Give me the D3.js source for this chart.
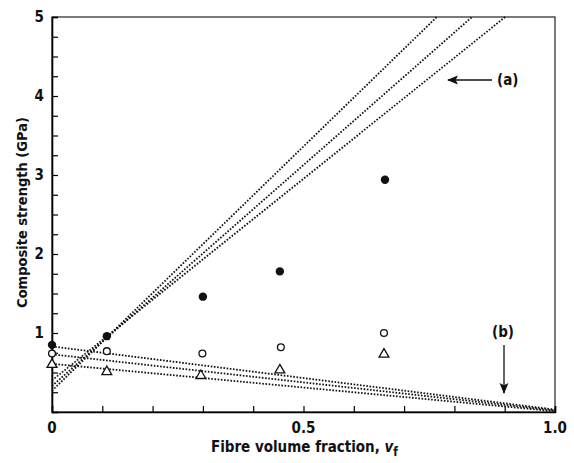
<!DOCTYPE html>
<html>
<head>
<meta charset="utf-8">
<script src="https://cdn.jsdelivr.net/npm/d3@7"></script>
<style>
  body { margin: 0; background: #fff; }
  svg text { font-family: "DejaVu Sans Condensed", "DejaVu Sans", sans-serif; fill: #111; }
</style>
</head>
<body>
<div class="chart"></div>
<script>
// measured points, fibre volume fraction vs composite strength (GPa)
const filledV = [0.0, 0.109, 0.30, 0.453, 0.662];
const filledS = [0.85, 0.96, 1.46, 1.78, 2.94];
const openV = [0.0, 0.109, 0.299, 0.455, 0.66];
const openS = [0.74, 0.77, 0.74, 0.82, 1.0];
const triV = [0.0, 0.109, 0.296, 0.453, 0.66];
const triS = [0.60, 0.51, 0.46, 0.53, 0.73];

// rule of mixtures lines (a) and (b): [v, strength] end points
const linesA = [
    [[0, 0.27], [0.765, 5]],
    [[0, 0.33], [0.835, 5]],
    [[0, 0.40], [0.901, 5]]
];
const linesB = [
    [[0, 0.83], [1, 0.03]],
    [[0, 0.73], [1, 0.02]],
    [[0, 0.61], [1, 0.01]]
];

const xTicks = [0, 0.5, 1.0];
const xTickLabels = ["0", "0.5", "1.0"];
const yTicks = [1, 2, 3, 4, 5];

const margin = { top: 17, right: 19, bottom: 51, left: 52 };
const width = 574 - margin.left - margin.right;
const height = 463 - margin.top - margin.bottom;

const svg = d3.select(".chart").append("svg")
    .attr("width", 574)
    .attr("height", 463)
    .append("g")
    .attr("transform", `translate(${margin.left},${margin.top})`);

const xScale = d3.scaleLinear().domain([0, 1]).range([0, width]);
const yScale = d3.scaleLinear().domain([0, 5]).range([height, 0]);

// frame
svg.append("rect")
    .attr("width", width).attr("height", height)
    .attr("fill", "none").attr("stroke", "#222").attr("stroke-width", 1.2);

// bottom axis with inward minor ticks
const xAxis = svg.append("g")
    .attr("transform", `translate(0,${height})`)
    .call(d3.axisBottom(xScale).tickValues(d3.range(0, 1.01, 0.1)).tickSize(-6).tickFormat(""));
xAxis.select(".domain").attr("stroke-width", 1.6);
xAxis.selectAll(".tick line").attr("stroke-width", 1.2);

svg.selectAll(".xlab").data(xTicks).enter().append("text")
    .attr("class", "xlab")
    .attr("x", d => xScale(d))
    .attr("y", height + 21)
    .attr("text-anchor", "middle")
    .style("font-size", "15px")
    .style("font-weight", "bold")
    .text((d, i) => xTickLabels[i]);

// left axis
const yAxis = svg.append("g")
    .call(d3.axisLeft(yScale).tickValues(d3.range(0, 5.01, 0.25)).tickSize(-6).tickFormat(""));
yAxis.select(".domain").attr("stroke-width", 1.6);
yAxis.selectAll(".tick line").attr("stroke-width", 1.2);

svg.selectAll(".ylab").data(yTicks).enter().append("text")
    .attr("class", "ylab")
    .attr("x", -8)
    .attr("y", d => yScale(d))
    .attr("dy", "0.36em")
    .attr("text-anchor", "end")
    .style("font-size", "15px")
    .style("font-weight", "bold")
    .text(d => d);

// axis titles
svg.append("text")
    .attr("transform", "rotate(-90)")
    .attr("x", -height / 2 + 2)
    .attr("y", -25)
    .attr("text-anchor", "middle")
    .style("font-size", "14.5px")
    .style("font-weight", "bold")
    .text("Composite strength (GPa)");

const xTitle = svg.append("text")
    .attr("x", width / 2 + 1)
    .attr("y", height + 40)
    .attr("text-anchor", "middle")
    .style("font-size", "15px")
    .style("font-weight", "bold");
xTitle.append("tspan").text("Fibre volume fraction, ");
xTitle.append("tspan").style("font-style", "italic").text("v");
xTitle.append("tspan").attr("dy", 4).style("font-size", "12px").text("f");

// dotted lines
const line = d3.line().x(d => xScale(d[0])).y(d => yScale(d[1]));
svg.selectAll(".lineA").data(linesA).enter().append("path")
    .attr("class", "lineA")
    .attr("d", line)
    .attr("fill", "none").attr("stroke", "#111")
    .attr("stroke-width", 1.8).attr("stroke-dasharray", "1.6,1.6");
svg.selectAll(".lineB").data(linesB).enter().append("path")
    .attr("class", "lineB")
    .attr("d", line)
    .attr("fill", "none").attr("stroke", "#111")
    .attr("stroke-width", 1.8).attr("stroke-dasharray", "1.6,1.6");

// data points
svg.selectAll(".dot").data(filledV).enter().append("circle")
    .attr("class", "dot")
    .attr("cx", d => xScale(d))
    .attr("cy", (d, i) => yScale(filledS[i]))
    .attr("r", 4.2)
    .attr("fill", "#111");

svg.selectAll(".ring").data(openV).enter().append("circle")
    .attr("class", "ring")
    .attr("cx", d => xScale(d))
    .attr("cy", (d, i) => yScale(openS[i]))
    .attr("r", 3.4)
    .attr("fill", "#fff").attr("stroke", "#111").attr("stroke-width", 1.3);

const tri = d3.symbol().type(d3.symbolTriangle).size(42);
svg.selectAll(".tri").data(triV).enter().append("path")
    .attr("class", "tri")
    .attr("d", tri)
    .attr("transform", (d, i) => `translate(${xScale(d)},${yScale(triS[i])})`)
    .attr("fill", "#fff").attr("stroke", "#111").attr("stroke-width", 1.3);

// annotation arrows
svg.append("defs").append("marker")
    .attr("id", "head")
    .attr("viewBox", "0 0 10 10")
    .attr("refX", 9).attr("refY", 5)
    .attr("markerWidth", 11).attr("markerHeight", 11)
    .attr("markerUnits", "userSpaceOnUse")
    .attr("orient", "auto")
    .append("path").attr("d", "M0,1 L10,5 L0,9 L2,5 Z").attr("fill", "#111");

svg.append("line")
    .attr("x1", 440).attr("y1", 63).attr("x2", 396).attr("y2", 63)
    .attr("stroke", "#111").attr("stroke-width", 1.3)
    .attr("marker-end", "url(#head)");
svg.append("text")
    .attr("x", 445).attr("y", 63).attr("dy", "0.36em")
    .style("font-size", "15px").style("font-weight", "bold")
    .text("(a)");

svg.append("line")
    .attr("x1", 452).attr("y1", 328).attr("x2", 452).attr("y2", 376)
    .attr("stroke", "#111").attr("stroke-width", 1.3)
    .attr("marker-end", "url(#head)");
svg.append("text")
    .attr("x", 451).attr("y", 315).attr("dy", "0.36em")
    .attr("text-anchor", "middle")
    .style("font-size", "15px").style("font-weight", "bold")
    .text("(b)");
</script>
</body>
</html>
